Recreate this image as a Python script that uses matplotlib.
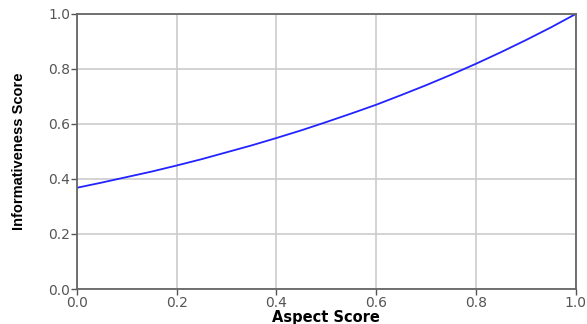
import numpy as np
import matplotlib.pyplot as plt

# values
aspect = [0.0, 0.05, 0.1, 0.15, 0.2, 0.25, 0.3, 0.35, 0.4, 0.45, 0.5,
          0.55, 0.6, 0.65, 0.7, 0.75, 0.8, 0.85, 0.9, 0.95, 1.0]
informativeness = [0.368, 0.387, 0.407, 0.427, 0.449, 0.472, 0.497, 0.522,
                   0.549, 0.577, 0.607, 0.638, 0.670, 0.705, 0.741, 0.779,
                   0.819, 0.861, 0.905, 0.951, 1.0]
ticks = [0.0, 0.2, 0.4, 0.6, 0.8, 1.0]

fig = plt.figure(figsize=(5.87, 3.24), dpi=100)
ax = fig.add_axes([0.131, 0.108, 0.850, 0.849])

ax.plot(aspect, informativeness, color='#2323ff', linewidth=1.3)

ax.set_xlim(0, 1)
ax.set_ylim(0, 1)
ax.set_xticks(ticks)
ax.set_yticks(ticks)
ax.set_xticklabels([f"{t:.1f}" for t in ticks])
ax.set_yticklabels([f"{t:.1f}" for t in ticks])
ax.tick_params(labelsize=10, colors='#555555', length=4, width=1, pad=1)
ax.grid(True, color='#cccccc', linewidth=1.2)

for s in ax.spines.values():
    s.set_color('#666666')
    s.set_linewidth(1.3)

ax.set_xlabel("Aspect Score", fontsize=10.5, fontweight='bold', labelpad=0)
ax.set_ylabel("Informativeness Score", fontsize=10.5, fontweight='bold',
              family=['Liberation Sans', 'DejaVu Sans'], labelpad=16)

fig.savefig("out.png", dpi=100)
